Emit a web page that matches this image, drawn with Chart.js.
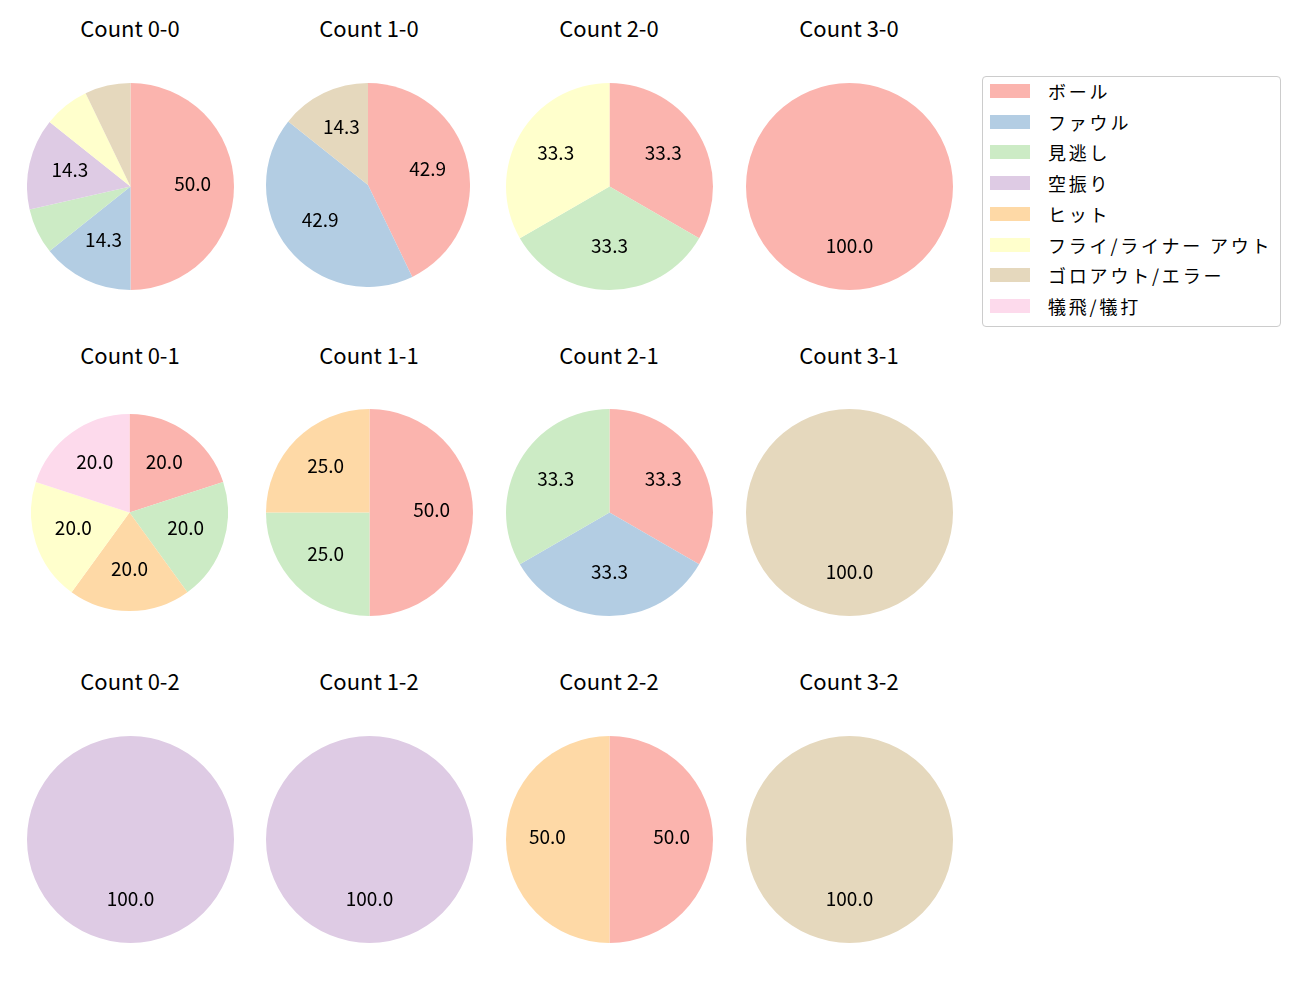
<!DOCTYPE html>
<html>
<head>
<meta charset="utf-8">
<script src="https://cdn.jsdelivr.net/npm/chart.js@4.4.0/dist/chart.umd.min.js"></script>
<style>
    body { margin: 0; background: #fff; font-family: "Noto Sans CJK JP", "Noto Sans", sans-serif; }
    #page { position: relative; width: 1300px; height: 1000px; overflow: hidden; }
    .title { position: absolute; width: 240px; text-align: center; font-size: 22px; line-height: 24px; color: #000; }
    .pie { position: absolute; }
    #legend { position: absolute; left: 982px; top: 76px; width: 299px; height: 251px;
              border: 1px solid #cccccc; border-radius: 4px; box-sizing: border-box; }
    .row { position: absolute; left: 0; height: 30px; width: 100%; }
    .patch { position: absolute; left: 7px; top: 8px; width: 40px; height: 14px; }
    .label { position: absolute; left: 65px; top: 0; line-height: 30px; font-size: 18px; letter-spacing: 2.8px; color: #000; white-space: nowrap; }
</style>
</head>
<body>
<div id="page"><div id="legend"></div></div>
<script>
// pitch result categories and their Pastel1 colours
const categories = ['ボール', 'ファウル', '見逃し', '空振り', 'ヒット', 'フライ/ライナー アウト', 'ゴロアウト/エラー', '犠飛/犠打'];
const colors = ['#fbb4ae', '#b3cde3', '#ccebc5', '#decbe4', '#fed9a6', '#ffffcc', '#e5d8bd', '#fddaec'];

// ball-strike counts, in grid order (row = strikes, column = balls)
const countLabels = ['0-0', '1-0', '2-0', '3-0', '0-1', '1-1', '2-1', '3-1', '0-2', '1-2', '2-2', '3-2'];

// number of pitches per category for each count
const count00 = [7, 2, 1, 2, 0, 1, 1, 0];
const count10 = [3, 3, 0, 0, 0, 0, 1, 0];
const count20 = [1, 0, 1, 0, 0, 1, 0, 0];
const count30 = [1, 0, 0, 0, 0, 0, 0, 0];
const count01 = [1, 0, 1, 0, 1, 1, 0, 1];
const count11 = [2, 0, 1, 0, 1, 0, 0, 0];
const count21 = [1, 1, 1, 0, 0, 0, 0, 0];
const count31 = [0, 0, 0, 0, 0, 0, 1, 0];
const count02 = [0, 0, 0, 1, 0, 0, 0, 0];
const count12 = [0, 0, 0, 1, 0, 0, 0, 0];
const count22 = [1, 0, 0, 0, 1, 0, 0, 0];
const count32 = [0, 0, 0, 0, 0, 0, 1, 0];
const countData = [count00, count10, count20, count30, count01, count11, count21, count31, count02, count12, count22, count32];

// layout
const colX = [130, 369, 609, 849];
const rowY = [186, 512, 839];
const titleY = [29, 356, 682];
const radius = 103.5;
// a couple of panels come out slightly smaller in the original
const panelFix = {
    '1-0': { x: 368, y: 184.7, r: 102 },
    '0-1': { x: 129.5, y: 512.3, r: 98.5 }
};

// percentage labels at 0.6 of the radius, skipping small slices
const pctLabels = {
    id: 'pctLabels',
    afterDatasetsDraw(chart) {
        const ctx = chart.ctx;
        const meta = chart.getDatasetMeta(0);
        const data = chart.data.datasets[0].data;
        const total = data.reduce((a, b) => a + b, 0);
        ctx.save();
        ctx.font = '19px "Noto Sans CJK JP", "Noto Sans", sans-serif';
        ctx.fillStyle = '#000';
        ctx.textAlign = 'center';
        ctx.textBaseline = 'middle';
        meta.data.forEach((arc, i) => {
            const pct = data[i] / total * 100;
            if (pct < 10) return;
            const p = arc.getProps(['x', 'y', 'startAngle', 'endAngle', 'outerRadius'], true);
            const mid = (p.startAngle + p.endAngle) / 2;
            const tx = p.x + Math.cos(mid) * p.outerRadius * 0.6;
            const ty = p.y + Math.sin(mid) * p.outerRadius * 0.6;
            ctx.fillText(pct.toFixed(1), tx, ty - 3);
        });
        ctx.restore();
    }
};

const page = document.getElementById('page');

countLabels.forEach((label, i) => {
    const col = i % 4;
    const row = Math.floor(i / 4);
    const fix = panelFix[label] || {};
    const cx = fix.x || colX[col];
    const cy = fix.y || rowY[row];
    const r = fix.r || radius;

    const title = document.createElement('div');
    title.className = 'title';
    title.textContent = 'Count ' + label;
    title.style.left = (colX[col] - 120) + 'px';
    title.style.top = (titleY[row] - 14.5) + 'px';
    page.appendChild(title);

    const size = Math.round(r * 2);
    const canvas = document.createElement('canvas');
    canvas.className = 'pie';
    canvas.width = size;
    canvas.height = size;
    canvas.style.left = (cx - size / 2) + 'px';
    canvas.style.top = (cy - size / 2) + 'px';
    page.appendChild(canvas);

    new Chart(canvas.getContext('2d'), {
        type: 'pie',
        data: {
            labels: categories,
            datasets: [{
                data: countData[i],
                backgroundColor: colors,
                borderWidth: 0
            }]
        },
        options: {
            responsive: false,
            animation: false,
            layout: { padding: 0 },
            plugins: {
                legend: { display: false },
                tooltip: { enabled: false }
            }
        },
        plugins: [pctLabels]
    });
});

// legend
const legend = document.getElementById('legend');
categories.forEach((name, i) => {
    const row = document.createElement('div');
    row.className = 'row';
    row.style.top = (-1 + i * 30.7) + 'px';
    row.innerHTML = `<div class="patch" style="background:${colors[i]}"></div><div class="label">${name}</div>`;
    legend.appendChild(row);
});
</script>
</body>
</html>
